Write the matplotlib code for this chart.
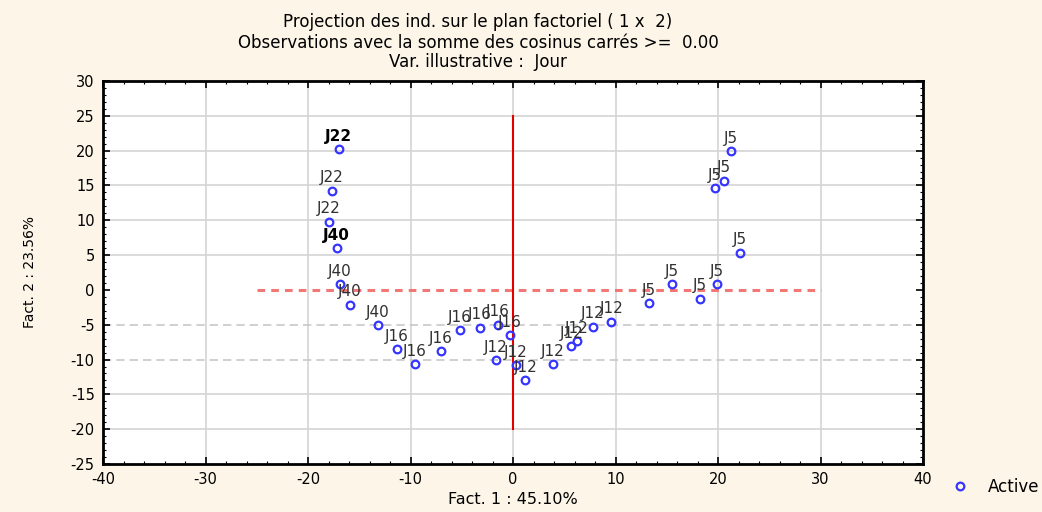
from matplotlib import pyplot as plt
import numpy as np

# coordonnees des individus sur le plan factoriel (1 x 2)
fact1 = [-17.0, -17.7, -18.0,
         -17.2, -16.9, -15.9, -13.2,
         -11.3, -9.6, -7.0, -5.2, -3.2, -1.5, -0.3,
         -1.7, 0.3, 1.2, 3.9, 5.7, 6.2, 7.8, 9.6,
         21.3, 20.6, 19.7, 22.1, 15.5, 19.9, 18.2, 13.3]
fact2 = [20.2, 14.2, 9.8,
         6.0, 0.8, -2.1, -5.1,
         -8.5, -10.7, -8.8, -5.8, -5.4, -5.0, -6.5,
         -10.1, -10.8, -13.0, -10.7, -8.1, -7.4, -5.3, -4.6,
         19.9, 15.7, 14.6, 5.3, 0.8, 0.8, -1.3, -1.9]
jours = ['J22'] * 3 + ['J40'] * 4 + ['J16'] * 7 + ['J12'] * 8 + ['J5'] * 8
gras = [True, False, False, True] + [False] * 26

xticks = np.arange(-40, 41, 10)
yticks = np.arange(-25, 31, 5)

plt.rcParams['font.family'] = ['DejaVu Sans']
plt.rcParams['axes.unicode_minus'] = False

fig = plt.figure(figsize=(10.42, 5.12), dpi=100, facecolor='#fcf5e8')
ax = fig.add_axes([103 / 1042, 1 - 464 / 512, 820 / 1042, 383 / 512])
ax.set_facecolor('white')

ax.set_xlim(-40, 40)
ax.set_ylim(-25, 30)
ax.set_xticks(xticks)
ax.set_yticks(yticks)
ax.set_xticks(np.arange(-40, 41, 2), minor=True)
ax.set_yticks(np.arange(-25, 31, 1), minor=True)
ax.tick_params(which='both', direction='in', top=True, right=True, labelsize=10.5, colors='black')
ax.tick_params(which='major', length=5, width=1.2, pad=6)
ax.tick_params(which='minor', length=2.5, width=0.8)
for s in ax.spines.values():
    s.set_linewidth(2)

# grille
for x in xticks[1:-1]:
    ax.axvline(x, color='#d4d4d4', lw=1.2, zorder=0)
for y in yticks[1:-1]:
    if y in (-5, -10):
        ax.axhline(y, color='#c8c8c8', lw=1.2, ls=(0, (5, 3)), zorder=0)
    elif y != 0:
        ax.axhline(y, color='#d4d4d4', lw=1.2, zorder=0)

# axes factoriels
ax.plot([-25, 30], [0, 0], color='#f27878', lw=2.2, ls=(0, (2.5, 2)), zorder=1)
ax.plot([0, 0], [-20, 25], color='#e00000', lw=1.5, zorder=1)

ax.plot(fact1, fact2, ls='none', marker='o', ms=5.5, mfc='none', mec='#3535ff', mew=1.6,
        zorder=3, label='Active')

for x, y, t, b in zip(fact1, fact2, jours, gras):
    ax.annotate(t, (x, y), xytext=(0, 4), textcoords='offset points', ha='center', va='bottom',
                fontsize=11, color='black' if b else '#303030',
                fontweight='bold' if b else 'normal', zorder=4)

ax.set_xlabel('Fact. 1 : 45.10%', fontsize=11.5, labelpad=3)
ax.set_ylabel('Fact. 2 : 23.56%', fontsize=10, labelpad=24)

fig.text(478 / 1042, 1 - 22 / 512, 'Projection des ind. sur le plan factoriel ( 1 x  2)',
         ha='center', va='center', fontsize=12)
fig.text(478 / 1042, 1 - 43 / 512, 'Observations avec la somme des cosinus carrés >=  0.00',
         ha='center', va='center', fontsize=12)
fig.text(478 / 1042, 1 - 62 / 512, 'Var. illustrative :  Jour',
         ha='center', va='center', fontsize=12)

ax.legend(loc='center left', bbox_to_anchor=(945 / 1042, 1 - 487 / 512), bbox_transform=fig.transFigure,
          frameon=False, handlelength=1.0, handletextpad=1.2, fontsize=12, borderaxespad=0)

fig.savefig('out.png', dpi=100, facecolor=fig.get_facecolor())
